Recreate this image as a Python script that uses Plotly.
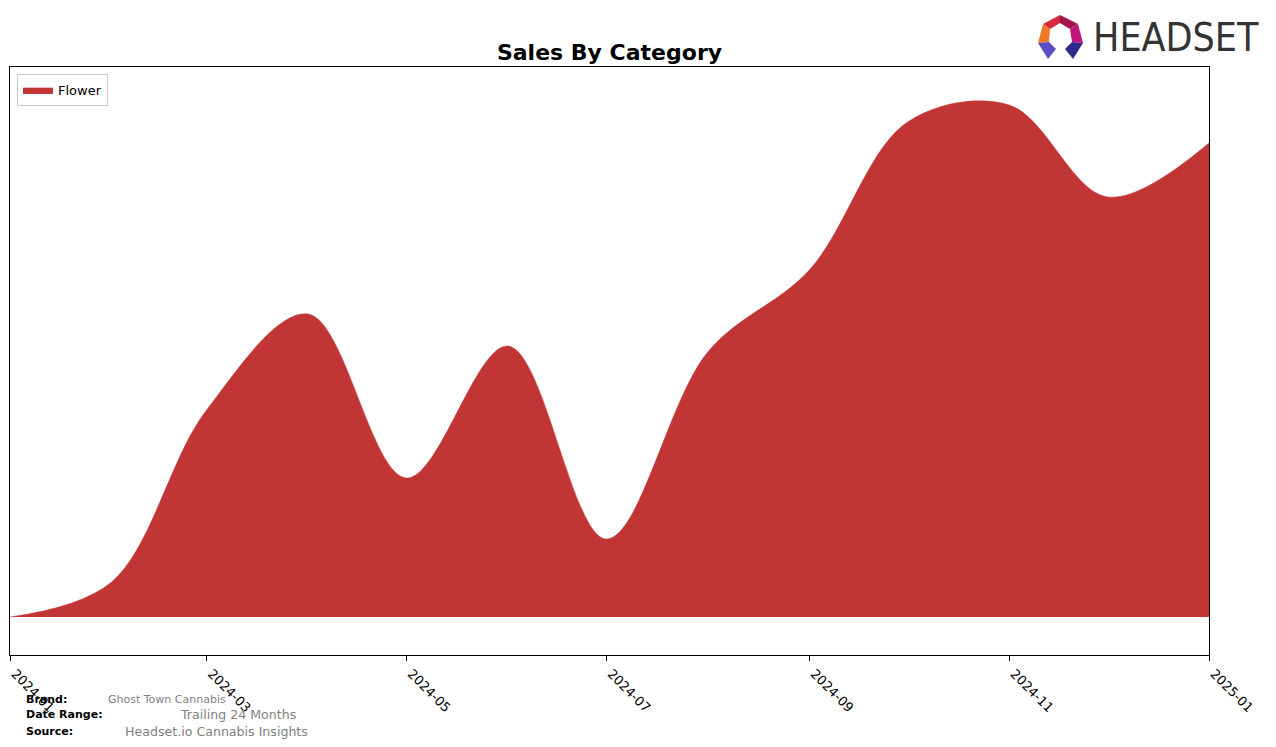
import plotly.graph_objects as go

# ---- data ----
months = ["2024-01-01", "2024-02-01", "2024-03-01", "2024-04-01", "2024-05-01",
          "2024-06-01", "2024-07-01", "2024-08-01", "2024-09-01", "2024-10-01",
          "2024-11-01", "2024-12-01", "2025-01-01"]
flower_sales = [0, 35, 207, 303, 139, 271, 78, 265, 347, 495, 512, 420, 474]
category_name = "Flower"
tick_labels = ["2024-01", "2024-03", "2024-05", "2024-07", "2024-09", "2024-11", "2025-01"]
tick_dates = ["2024-01-01", "2024-03-01", "2024-05-01", "2024-07-01", "2024-09-01",
              "2024-11-01", "2025-01-01"]

W, H = 1276, 747
L, R, T, B = 10, 1209, 67, 655
FILL = "#c13535"


def px(x):
    return (x - L) / (R - L)


def py(y):
    return (B - y) / (B - T)


fig = go.Figure()
fig.add_trace(go.Scatter(
    x=months, y=flower_sales, name=category_name, mode="lines",
    line=dict(shape="spline", smoothing=1.0, color=FILL, width=0.5),
    fill="tozeroy", fillcolor=FILL, hoverinfo="skip",
))

fig.update_layout(
    width=W, height=H,
    margin=dict(l=L, r=W - R, t=T, b=H - B, autoexpand=False),
    paper_bgcolor="white", plot_bgcolor="white",
    font=dict(family="DejaVu Sans", color="black", size=13),
    title=dict(text="<b>Sales By Category</b>", x=(L + R) / 2 / W, xanchor="center",
               y=1 - 52 / H, yanchor="middle", font=dict(size=22, family="DejaVu Sans")),
    showlegend=True,
    legend=dict(x=px(17), y=py(74), xanchor="left", yanchor="top",
                bgcolor="white", bordercolor="#cccccc", borderwidth=1,
                font=dict(size=13), itemwidth=30, tracegroupgap=0),
    xaxis=dict(type="date", range=["2024-01-01", "2025-01-01"], automargin=False,
               tickvals=tick_dates, ticktext=tick_labels, tickangle=45,
               ticks="outside", ticklen=5, tickcolor="black", ticklabelshift=5,
               showline=True, linecolor="black", linewidth=1, mirror=True,
               showgrid=False, zeroline=False, tickfont=dict(size=13)),
    yaxis=dict(range=[-38, 550], showticklabels=False, ticks="", automargin=False,
               showline=True, linecolor="black", linewidth=1, mirror=True,
               showgrid=False, zeroline=False),
)

# footer
footer = [
    ("Brand:", 24, 699, "Ghost Town Cannabis", 106, 11),
    ("Date Range:", 24, 715, "Trailing 24 Months", 178, 12.6),
    ("Source:", 24, 731, "Headset.io Cannabis Insights", 123, 12.6),
]
for lab, lx, ly, val, vx, vs in footer:
    fig.add_annotation(text=f"<b>{lab}</b>", x=px(lx), y=py(ly), xref="paper", yref="paper",
                       xanchor="left", yanchor="middle", showarrow=False,
                       font=dict(size=11, color="black", family="DejaVu Sans"))
    fig.add_annotation(text=val, x=px(vx), y=py(ly), xref="paper", yref="paper",
                       xanchor="left", yanchor="middle", showarrow=False,
                       font=dict(size=vs, color="#808080", family="DejaVu Sans"))

# logo text
fig.add_annotation(text="HEADSET", x=px(1091), y=py(38), xref="paper", yref="paper",
                   xanchor="left", yanchor="middle", showarrow=False,
                   font=dict(size=39, color="#333333",
                             family="Liberation Sans Narrow, DejaVu Sans Condensed, Roboto Condensed, Liberation Sans"))

# logo icon
pieces = [
    ([(1043, 24), (1060, 15), (1060, 23), (1050, 29)], "#d42a3c"),
    ([(1060, 15), (1078, 24), (1070, 29), (1060, 23)], "#a3154a"),
    ([(1043, 24), (1050, 29), (1049, 42), (1038, 43)], "#f07a26"),
    ([(1078, 24), (1083, 43), (1072, 42), (1070, 29)], "#c0167e"),
    ([(1038, 43), (1049, 42), (1056, 49), (1048, 59)], "#5b4fc8"),
    ([(1083, 43), (1072, 42), (1065, 49), (1073, 59)], "#2c2a8c"),
]
for pts, col in pieces:
    path = "M " + " L ".join(f"{px(x)},{py(y)}" for x, y in pts) + " Z"
    fig.add_shape(type="path", path=path, xref="paper", yref="paper",
                  fillcolor=col, line=dict(width=0), layer="above")

fig.write_html("out.html")
